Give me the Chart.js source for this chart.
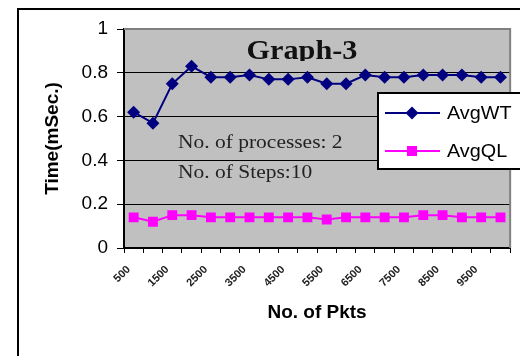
<!DOCTYPE html>
<html lang="en">
<head>
  <meta charset="UTF-8" />
  <title>Graph-3</title>
  <script src="https://cdn.jsdelivr.net/npm/chart.js"></script>
  <style>
    html, body { margin: 0; padding: 0; background: #fff; }
    #wrap { width: 520px; height: 356px; }
  </style>
</head>
<body>
  <div id="wrap"><canvas id="graph" width="520" height="356"></canvas></div>

  <script>
    // packet counts (x categories)
    const pkts = [500, 1000, 1500, 2000, 2500, 3000, 3500, 4000, 4500, 5000,
                  5500, 6000, 6500, 7000, 7500, 8000, 8500, 9000, 9500, 10000];
    const avgWT = [0.62, 0.57, 0.75, 0.83, 0.78, 0.78, 0.79, 0.77, 0.77, 0.78,
                   0.75, 0.75, 0.79, 0.78, 0.78, 0.79, 0.79, 0.79, 0.78, 0.78];
    const avgQL = [0.14, 0.12, 0.15, 0.15, 0.14, 0.14, 0.14, 0.14, 0.14, 0.14,
                   0.13, 0.14, 0.14, 0.14, 0.14, 0.15, 0.15, 0.14, 0.14, 0.14];
    const yTicks = [0, 0.2, 0.4, 0.6, 0.8, 1];

    const navy = '#000080';
    const pink = '#ff00ff';

    // text a bit wider than the font, like the stretched original
    function wideText(ctx, txt, x, y, sx) {
      ctx.save();
      ctx.translate(x, y);
      ctx.scale(sx, 1);
      ctx.fillText(txt, 0, 0);
      ctx.restore();
    }

    // grey plot area, outer frame, title, notes and legend
    const decor = {
      id: 'decor',
      beforeDraw(chart) {
        const { ctx, chartArea: a } = chart;
        ctx.save();
        ctx.fillStyle = '#c0c0c0';
        ctx.fillRect(a.left, a.top, a.right - a.left, a.bottom - a.top);
        ctx.restore();
      },
      beforeDatasetsDraw(chart) {
        const { ctx, chartArea: a } = chart;
        ctx.save();
        ctx.strokeStyle = '#808080';
        ctx.lineWidth = 2;
        ctx.beginPath();
        ctx.moveTo(a.left, a.top);
        ctx.lineTo(a.right, a.top);
        ctx.lineTo(a.right, a.bottom);
        ctx.stroke();

        // title, its descender cut off as in the original
        ctx.save();
        ctx.beginPath();
        ctx.rect(a.left, a.top, a.right - a.left, 61 - a.top);
        ctx.clip();
        ctx.fillStyle = '#111';
        ctx.font = 'bold 28px "Liberation Serif", "Times New Roman", serif';
        ctx.textAlign = 'center';
        ctx.textBaseline = 'alphabetic';
        wideText(ctx, 'Graph-3', 302, 59, 1.08);
        ctx.restore();

        ctx.font = '19px "Liberation Serif", "Times New Roman", serif';
        ctx.textAlign = 'left';
        ctx.textBaseline = 'alphabetic';
        ctx.fillStyle = '#222';
        wideText(ctx, 'No. of processes: 2', 178, 148, 1.13);
        wideText(ctx, 'No. of Steps:10', 178, 178, 1.13);
        ctx.restore();
      },
      afterDraw(chart) {
        const { ctx } = chart;
        ctx.save();
        // outer frame
        ctx.strokeStyle = '#000';
        ctx.lineWidth = 2;
        ctx.beginPath();
        ctx.moveTo(18, 360);
        ctx.lineTo(18, 9);
        ctx.lineTo(522, 9);
        ctx.stroke();

        // legend
        ctx.fillStyle = '#fff';
        ctx.fillRect(378, 93, 150, 76);
        ctx.strokeStyle = '#000';
        ctx.lineWidth = 2;
        ctx.strokeRect(378, 93, 150, 76);
        const items = [
          { label: 'AvgWT', color: navy, y: 113, shape: 'diamond' },
          { label: 'AvgQL', color: pink, y: 151, shape: 'square' }
        ];
        items.forEach(it => {
          ctx.strokeStyle = it.color;
          ctx.lineWidth = 2;
          ctx.beginPath();
          ctx.moveTo(385, it.y);
          ctx.lineTo(440, it.y);
          ctx.stroke();
          ctx.fillStyle = it.color;
          ctx.beginPath();
          if (it.shape === 'diamond') {
            ctx.moveTo(412, it.y - 6.5);
            ctx.lineTo(418.5, it.y);
            ctx.lineTo(412, it.y + 6.5);
            ctx.lineTo(405.5, it.y);
          } else {
            ctx.rect(407, it.y - 5, 10, 10);
          }
          ctx.closePath();
          ctx.fill();
          ctx.fillStyle = '#000';
          ctx.font = '18px Arial, "Liberation Sans", sans-serif';
          ctx.textAlign = 'left';
          ctx.textBaseline = 'middle';
          wideText(ctx, it.label, 447, it.y + 1, 1.1);
        });
        ctx.restore();
      }
    };

    const ctx = document.getElementById('graph').getContext('2d');
    const chart = new Chart(ctx, {
      type: 'line',
      data: {
        labels: pkts,
        datasets: [
          {
            label: 'AvgWT',
            data: avgWT,
            borderColor: navy,
            backgroundColor: navy,
            borderWidth: 2,
            pointStyle: 'rectRot',
            pointRadius: 6.5,
            pointBorderWidth: 0,
            pointBackgroundColor: navy,
            tension: 0
          },
          {
            label: 'AvgQL',
            data: avgQL,
            borderColor: pink,
            backgroundColor: pink,
            borderWidth: 2,
            pointStyle: 'rect',
            pointRadius: 7,
            pointBorderWidth: 0,
            pointBackgroundColor: pink,
            tension: 0
          }
        ]
      },
      options: {
        responsive: false,
        animation: false,
        devicePixelRatio: 1,
        layout: { padding: { left: 0, right: 4, top: 29, bottom: 0 } },
        plugins: {
          legend: { display: false },
          title: { display: false },
          tooltip: { enabled: false }
        },
        scales: {
          x: {
            offset: true,
            afterFit: s => { s.height = 108; },
            grid: {
              offset: true,
              drawOnChartArea: false,
              color: '#000',
              tickLength: 5
            },
            border: { color: '#000', width: 2 },
            ticks: {
              autoSkip: false,
              minRotation: 45,
              maxRotation: 45,
              padding: 10,
              labelOffset: -5,
              color: '#222',
              font: { family: 'Arial', size: 11, weight: 'bold' },
              callback: function (v, i) { return i % 2 === 0 ? this.getLabelForValue(v) : ''; }
            },
            title: {
              display: true,
              text: 'No. of Pkts',
              color: '#000',
              font: { family: 'Arial', size: 19, weight: 'bold' },
              padding: { top: 0, bottom: 32 }
            }
          },
          y: {
            min: 0,
            max: 1,
            afterFit: s => { s.width = 124; },
            afterBuildTicks: s => { s.ticks = yTicks.map(v => ({ value: v })); },
            grid: {
              color: c => (c.tick && c.tick.value === 1 ? '#808080' : '#000'),
              tickColor: '#000',
              tickLength: 7
            },
            border: { color: '#000', width: 2 },
            ticks: {
              padding: 9,
              color: '#000',
              font: { family: 'Arial', size: 19 },
              callback: v => String(v)
            },
            title: {
              display: true,
              text: 'Time(mSec.)',
              color: '#000',
              font: { family: 'Arial', size: 19, weight: 'bold' },
              padding: { top: 41, bottom: 0 }
            }
          }
        }
      },
      plugins: [decor]
    });
  </script>
</body>
</html>
